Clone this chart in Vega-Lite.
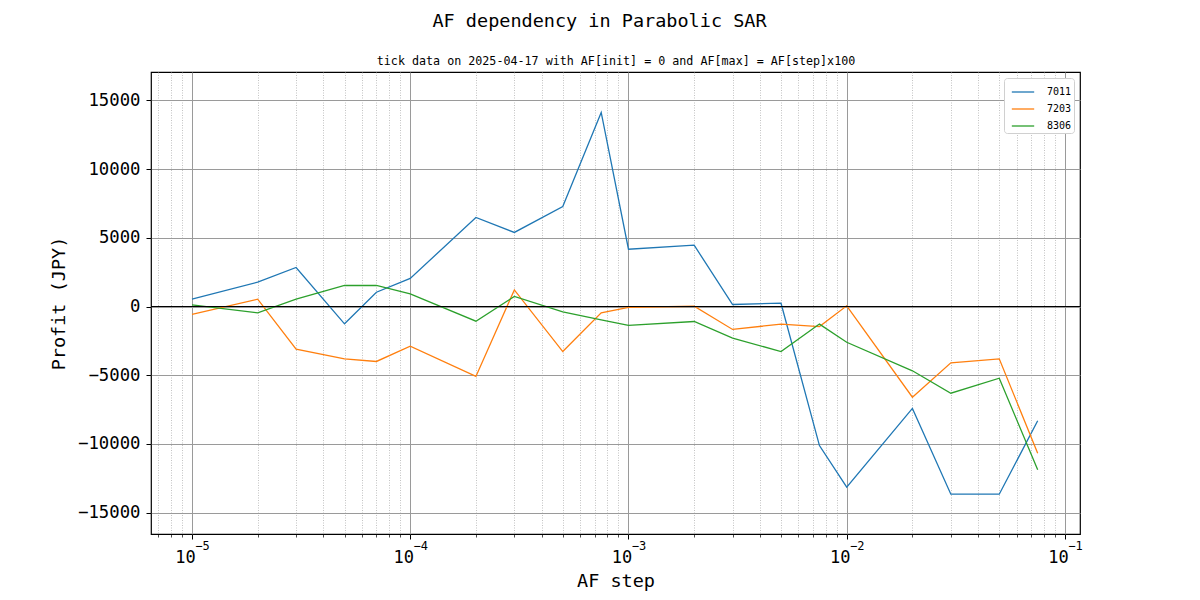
{
  "$schema": "https://vega.github.io/schema/vega-lite/v6.json",
  "width": 929,
  "height": 462,
  "autosize": {"type": "none"},
  "padding": {"left": 151, "top": 72, "right": 120, "bottom": 66},
  "background": "white",
  "title": {
    "text": "AF dependency in Parabolic SAR",
    "font": "DejaVu Sans Mono",
    "fontSize": 18.5,
    "fontWeight": "normal",
    "offset": 25,
    "anchor": "middle",
    "dx": -16
  },
  "config": {
    "view": {"stroke": "black", "strokeWidth": 1.2},
    "font": "DejaVu Sans Mono"
  },
  "data": {
    "values": [
      {"af": 0.00001, "code": "7011", "profit": 530},
      {"af": 0.00002, "code": "7011", "profit": 1770},
      {"af": 0.00003, "code": "7011", "profit": 2840},
      {"af": 0.00005, "code": "7011", "profit": -1260},
      {"af": 0.00007, "code": "7011", "profit": 1040},
      {"af": 0.0001, "code": "7011", "profit": 2040},
      {"af": 0.0002, "code": "7011", "profit": 6480},
      {"af": 0.0003, "code": "7011", "profit": 5390},
      {"af": 0.0005, "code": "7011", "profit": 7280},
      {"af": 0.00075, "code": "7011", "profit": 14120},
      {"af": 0.001, "code": "7011", "profit": 4170},
      {"af": 0.002, "code": "7011", "profit": 4460},
      {"af": 0.003, "code": "7011", "profit": 145},
      {"af": 0.005, "code": "7011", "profit": 240},
      {"af": 0.0075, "code": "7011", "profit": -10120},
      {"af": 0.01, "code": "7011", "profit": -13150},
      {"af": 0.02, "code": "7011", "profit": -7420},
      {"af": 0.03, "code": "7011", "profit": -13660},
      {"af": 0.05, "code": "7011", "profit": -13660},
      {"af": 0.075, "code": "7011", "profit": -8320},
      {"af": 0.00001, "code": "7203", "profit": -580},
      {"af": 0.00002, "code": "7203", "profit": 530},
      {"af": 0.00003, "code": "7203", "profit": -3100},
      {"af": 0.00005, "code": "7203", "profit": -3810},
      {"af": 0.00007, "code": "7203", "profit": -4000},
      {"af": 0.0001, "code": "7203", "profit": -2890},
      {"af": 0.0002, "code": "7203", "profit": -5090},
      {"af": 0.0003, "code": "7203", "profit": 1210},
      {"af": 0.0005, "code": "7203", "profit": -3280},
      {"af": 0.00075, "code": "7203", "profit": -460},
      {"af": 0.001, "code": "7203", "profit": -70},
      {"af": 0.002, "code": "7203", "profit": 20},
      {"af": 0.003, "code": "7203", "profit": -1670},
      {"af": 0.005, "code": "7203", "profit": -1280},
      {"af": 0.0075, "code": "7203", "profit": -1460},
      {"af": 0.01, "code": "7203", "profit": 50},
      {"af": 0.02, "code": "7203", "profit": -6600},
      {"af": 0.03, "code": "7203", "profit": -4100},
      {"af": 0.05, "code": "7203", "profit": -3810},
      {"af": 0.075, "code": "7203", "profit": -10680},
      {"af": 0.00001, "code": "8306", "profit": 120},
      {"af": 0.00002, "code": "8306", "profit": -460},
      {"af": 0.00003, "code": "8306", "profit": 530},
      {"af": 0.00005, "code": "8306", "profit": 1530},
      {"af": 0.00007, "code": "8306", "profit": 1530},
      {"af": 0.0001, "code": "8306", "profit": 920},
      {"af": 0.0002, "code": "8306", "profit": -1070},
      {"af": 0.0003, "code": "8306", "profit": 730},
      {"af": 0.0005, "code": "8306", "profit": -390},
      {"af": 0.00075, "code": "8306", "profit": -970},
      {"af": 0.001, "code": "8306", "profit": -1380},
      {"af": 0.002, "code": "8306", "profit": -1090},
      {"af": 0.003, "code": "8306", "profit": -2300},
      {"af": 0.005, "code": "8306", "profit": -3280},
      {"af": 0.0075, "code": "8306", "profit": -1280},
      {"af": 0.01, "code": "8306", "profit": -2600},
      {"af": 0.02, "code": "8306", "profit": -4680},
      {"af": 0.03, "code": "8306", "profit": -6310},
      {"af": 0.05, "code": "8306", "profit": -5220},
      {"af": 0.075, "code": "8306", "profit": -11880}
    ]
  },
  "layer": [
    {
      "mark": {"type": "line", "strokeWidth": 1.3},
      "encoding": {
        "x": {
          "field": "af",
          "type": "quantitative",
          "scale": {"type": "log", "domain": [0.00000649, 0.1172], "nice": false},
          "title": "AF step",
          "axis": {
            "values": [0.000007, 0.000008, 0.000009, 0.00001, 0.00002, 0.00003, 0.00004, 0.00005, 0.00006, 0.00007, 0.00008, 0.00009, 0.0001, 0.0002, 0.0003, 0.0004, 0.0005, 0.0006, 0.0007, 0.0008, 0.0009, 0.001, 0.002, 0.003, 0.004, 0.005, 0.006, 0.007, 0.008, 0.009, 0.01, 0.02, 0.03, 0.04, 0.05, 0.06, 0.07, 0.08, 0.09, 0.1],
            "labelExpr": "abs(log(datum.value)/LN10 - round(log(datum.value)/LN10)) < 0.001 ? '10' : ''",
            "labelOverlap": false,
            "labelFont": "DejaVu Sans Mono",
            "labelFontSize": 17,
            "labelColor": "black",
            "labelPadding": 10,
            "labelOffset": -7,
            "titleFont": "DejaVu Sans Mono",
            "titleFontSize": 18.5,
            "titleFontWeight": "normal",
            "titleColor": "black",
            "titlePadding": 6,
            "domain": false,
            "tickColor": "black",
            "tickSize": {"condition": {"test": "abs(log(datum.value)/LN10 - round(log(datum.value)/LN10)) < 0.001", "value": 5}, "value": 3},
            "tickWidth": {"condition": {"test": "abs(log(datum.value)/LN10 - round(log(datum.value)/LN10)) < 0.001", "value": 1}, "value": 0.7},
            "grid": true,
            "gridColor": {"condition": {"test": "abs(log(datum.value)/LN10 - round(log(datum.value)/LN10)) < 0.001", "value": "#9a9a9a"}, "value": "#b4b4b4"},
            "gridDash": {"condition": {"test": "abs(log(datum.value)/LN10 - round(log(datum.value)/LN10)) < 0.001", "value": []}, "value": [1, 1.5]},
            "gridWidth": {"condition": {"test": "abs(log(datum.value)/LN10 - round(log(datum.value)/LN10)) < 0.001", "value": 1}, "value": 0.8}
          }
        },
        "y": {
          "field": "profit",
          "type": "quantitative",
          "scale": {"domain": [-16557, 17067], "nice": false, "zero": false},
          "title": "Profit (JPY)",
          "axis": {
            "values": [-15000, -10000, -5000, 0, 5000, 10000, 15000],
            "format": "d",
            "labelFont": "DejaVu Sans Mono",
            "labelFontSize": 17.3,
            "labelColor": "black",
            "labelPadding": 6,
            "titleFont": "DejaVu Sans Mono",
            "titleFontSize": 18.5,
            "titleFontWeight": "normal",
            "titleColor": "black",
            "titlePadding": 9,
            "domain": false,
            "tickColor": "black",
            "tickSize": 5,
            "grid": true,
            "gridColor": "#9a9a9a",
            "gridWidth": 1
          }
        },
        "color": {
          "field": "code",
          "type": "nominal",
          "scale": {"domain": ["7011", "7203", "8306"], "range": ["#1f77b4", "#ff7f0e", "#2ca02c"]},
          "legend": {
            "title": null,
            "orient": "top-right",
            "offset": 6,
            "symbolType": "stroke",
            "symbolSize": 500,
            "symbolStrokeWidth": 1.3,
            "symbolOffset": 5,
            "labelFont": "DejaVu Sans Mono",
            "labelFontSize": 10,
            "labelColor": "black",
            "labelOffset": 12,
            "fillColor": "white",
            "strokeColor": "#d0d0d0",
            "cornerRadius": 3,
            "padding": 2,
            "rowPadding": 0
          }
        }
      }
    },
    {
      "mark": {"type": "line", "opacity": 0},
      "encoding": {
        "x": {
          "field": "af",
          "type": "quantitative",
          "axis": {
            "orient": "bottom",
            "values": [0.00001, 0.0001, 0.001, 0.01, 0.1],
            "labelExpr": "'−' + abs(round(log(datum.value)/LN10))",
            "labelOverlap": false,
            "labelFont": "DejaVu Sans Mono",
            "labelFontSize": 12,
            "labelColor": "black",
            "labelPadding": 6,
            "labelOffset": 10,
            "ticks": false,
            "domain": false,
            "grid": false,
            "title": null
          }
        },
        "y": {
          "field": "profit",
          "type": "quantitative",
          "title": "Profit (JPY)",
          "axis": {
            "values": [-15000, -10000, -5000, 0, 5000, 10000, 15000],
            "format": "d",
            "labelFont": "DejaVu Sans Mono",
            "labelFontSize": 17.3,
            "labelColor": "black",
            "labelPadding": 6,
            "titleFont": "DejaVu Sans Mono",
            "titleFontSize": 18.5,
            "titleFontWeight": "normal",
            "titleColor": "black",
            "titlePadding": 9,
            "domain": false,
            "tickColor": "black",
            "tickSize": 5,
            "grid": true,
            "gridColor": "#9a9a9a",
            "gridWidth": 1
          }
        },
        "detail": {"field": "code", "type": "nominal"}
      }
    },
    {
      "mark": {"type": "line", "opacity": 0},
      "encoding": {
        "x": {
          "field": "af",
          "type": "quantitative",
          "title": "tick data on 2025-04-17 with AF[init] = 0 and AF[max] = AF[step]x100",
          "axis": {
            "orient": "top",
            "labels": false,
            "ticks": false,
            "domain": false,
            "grid": false,
            "minExtent": 0,
            "titleFont": "DejaVu Sans Mono",
            "titleFontSize": 11.7,
            "titleFontWeight": "normal",
            "titleColor": "black",
            "titlePadding": 6
          }
        },
        "y": {
          "field": "profit",
          "type": "quantitative",
          "title": "Profit (JPY)",
          "axis": {
            "values": [-15000, -10000, -5000, 0, 5000, 10000, 15000],
            "format": "d",
            "labelFont": "DejaVu Sans Mono",
            "labelFontSize": 17.3,
            "labelColor": "black",
            "labelPadding": 6,
            "titleFont": "DejaVu Sans Mono",
            "titleFontSize": 18.5,
            "titleFontWeight": "normal",
            "titleColor": "black",
            "titlePadding": 9,
            "domain": false,
            "tickColor": "black",
            "tickSize": 5,
            "grid": true,
            "gridColor": "#9a9a9a",
            "gridWidth": 1
          }
        },
        "detail": {"field": "code", "type": "nominal"}
      }
    },
    {
      "mark": {"type": "rule", "color": "black", "strokeWidth": 0.9},
      "encoding": {"y": {"datum": 0}}
    }
  ],
  "resolve": {"axis": {"x": "independent"}}
}
